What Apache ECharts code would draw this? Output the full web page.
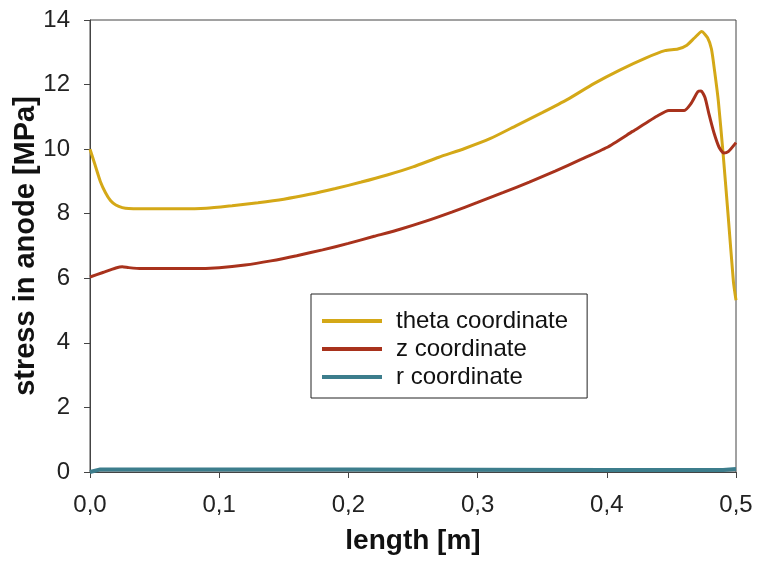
<!DOCTYPE html>
<html>
<head>
<meta charset="utf-8">
<script src="https://cdn.jsdelivr.net/npm/echarts@6/dist/echarts.min.js"></script>
<style>html,body{margin:0;padding:0;background:#fff}#c{width:757px;height:561px}</style>
</head>
<body>
<div id="c"></div>
<script>
const xTicks = ['0,0','0,1','0,2','0,3','0,4','0,5'];
const yTicks = [0,2,4,6,8,10,12,14];
const seriesNames = ['theta coordinate','z coordinate','r coordinate'];

const thetaX = [0,0.004,0.008,0.012,0.016,0.02,0.025,0.03,0.05,0.07,0.09,0.11,0.13,0.15,0.17,0.19,0.21,0.23,0.25,0.27,0.29,0.31,0.33,0.35,0.37,0.39,0.41,0.43,0.445,0.455,0.462,0.468,0.4735,0.478,0.481,0.4835,0.4863,0.49,0.494,0.498,0.5];
const thetaY = [10.0,9.5,9.0,8.65,8.4,8.27,8.19,8.16,8.15,8.15,8.17,8.25,8.34,8.45,8.6,8.78,8.98,9.2,9.45,9.75,10.02,10.33,10.73,11.13,11.55,12.03,12.45,12.82,13.05,13.1,13.22,13.45,13.64,13.45,13.1,12.4,11.5,9.87,7.9,5.9,5.32];

const zX = [0,0.01,0.02,0.025,0.03,0.04,0.06,0.08,0.10,0.12,0.14,0.16,0.18,0.20,0.22,0.24,0.26,0.28,0.30,0.32,0.34,0.36,0.38,0.40,0.42,0.44,0.448,0.46,0.465,0.4705,0.473,0.476,0.479,0.483,0.487,0.4905,0.494,0.5];
const zY = [6.04,6.18,6.32,6.36,6.33,6.3,6.3,6.3,6.33,6.41,6.54,6.7,6.88,7.08,7.3,7.52,7.77,8.05,8.35,8.66,8.98,9.32,9.68,10.05,10.55,11.05,11.2,11.2,11.4,11.78,11.8,11.6,11.1,10.5,10.05,9.88,9.92,10.2];

const rX = [0,0.008,0.1,0.2,0.3,0.4,0.49,0.5];
const rY = [0,0.08,0.08,0.08,0.07,0.06,0.06,0.09];

const colors = ['#D4A817','#A8321C','#3C7D8C'];
const FONT = 'Liberation Sans, Arial, sans-serif';

function pairs(xs, ys){ return xs.map((x,i)=>[x, ys[i]]); }

const chart = echarts.init(document.getElementById('c'));
chart.setOption({
  animation:false,
  backgroundColor:'#fff',
  grid:{left:90,right:21,top:20,bottom:89,containLabel:false,outerBoundsMode:'none',
        show:true,borderColor:'#444',borderWidth:1,backgroundColor:'transparent'},
  legend:{
    orient:'vertical', left:311, top:294,
    padding:[15,19,9,11],
    borderColor:'#222', borderWidth:1, backgroundColor:'#fff',
    itemWidth:60, itemHeight:4, itemGap:4, icon:'rect',
    textStyle:{fontFamily:FONT,fontSize:24,color:'#111',padding:[0,0,0,9]},
    data:seriesNames
  },
  xAxis:{
    type:'value', min:0, max:0.5, interval:0.1,
    name:'length [m]', nameLocation:'middle', nameGap:55, nameMoveOverlap:false,
    nameTextStyle:{fontFamily:FONT,fontSize:28,fontWeight:'bold',color:'#111'},
    axisLine:{show:true,lineStyle:{color:'#444',width:1}},
    axisTick:{show:true,length:6,lineStyle:{color:'#444'}},
    axisLabel:{fontFamily:FONT,fontSize:24,color:'#222',margin:21,
      formatter:(v)=>xTicks[Math.round(v*10)]},
    splitLine:{show:false}
  },
  yAxis:{
    type:'value', min:0, max:14, interval:2,
    name:'stress in anode [MPa]', nameLocation:'middle', nameGap:50, nameMoveOverlap:false,
    nameTextStyle:{fontFamily:FONT,fontSize:29,fontWeight:'bold',color:'#111'},
    axisLine:{show:true,lineStyle:{color:'#444',width:1}},
    axisTick:{show:true,length:6,lineStyle:{color:'#444'}},
    axisLabel:{fontFamily:FONT,fontSize:24,color:'#222',margin:20,
      formatter:(v)=>String(yTicks[Math.round(v/2)])},
    splitLine:{show:false}
  },
  series:[
    {name:seriesNames[0],type:'line',data:pairs(thetaX,thetaY),showSymbol:false,smooth:0.2,
     lineStyle:{color:colors[0],width:3},itemStyle:{color:colors[0]}},
    {name:seriesNames[1],type:'line',data:pairs(zX,zY),showSymbol:false,smooth:0.2,
     lineStyle:{color:colors[1],width:3},itemStyle:{color:colors[1]}},
    {name:seriesNames[2],type:'line',data:pairs(rX,rY),showSymbol:false,smooth:false,
     lineStyle:{color:colors[2],width:4},itemStyle:{color:colors[2]}}
  ]
});
</script>
</body>
</html>
